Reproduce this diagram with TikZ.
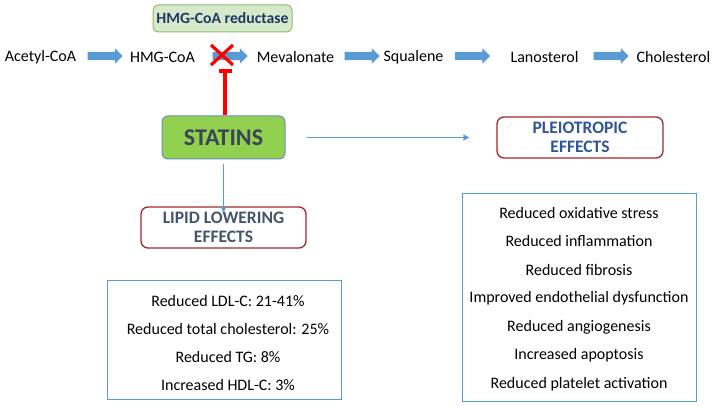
\documentclass[tikz,border=0pt]{standalone}
\usepackage{fontspec}
\setmainfont{Carlito}
\usetikzlibrary{shapes.arrows,arrows.meta}
\definecolor{arrblue}{HTML}{5B9BD5}
\definecolor{boxblue}{HTML}{5B9BD5}
\definecolor{darkred}{HTML}{A0282C}
\definecolor{statgreen}{HTML}{92D050}
\definecolor{statborder}{HTML}{6A8FBF}
\definecolor{statext}{HTML}{3A4656}
\definecolor{lightgreen}{HTML}{D6EACB}
\definecolor{greenborder}{HTML}{8DBB6E}
\definecolor{navy}{HTML}{1F3864}
\definecolor{slate}{HTML}{44546A}
\definecolor{pleioblue}{HTML}{2F5597}
\begin{document}
\begin{tikzpicture}[x=1pt,y=-1pt,
  lbl/.style={font=\fontsize{16}{19}\selectfont, inner sep=0pt, anchor=center},
  blockarrow/.style={single arrow, fill=arrblue, draw=none, minimum height=35pt, inner xsep=0pt, inner ysep=4pt, single arrow head extend=3.5pt, single arrow tip angle=90},
  effbox/.style={draw=darkred, line width=1.3pt, rounded corners=7pt, fill=white, align=center, font=\fontsize{17.5}{20}\selectfont\bfseries, inner sep=0pt},
  listbox/.style={draw=boxblue, line width=0.9pt, fill=white, inner sep=0pt},
  thinarrow/.style={draw=arrblue, line width=1.3pt, -{Triangle[length=6pt,width=6pt]}}
]
\useasboundingbox (0,0) rectangle (713,406);
% top row
\node[lbl] (acetyl) at (40.5,57) {Acetyl-CoA};
\node[blockarrow] (a1) at (103,56) {};
\node[lbl] (hmg) at (162.5,57) {HMG-CoA};
\node[blockarrow] (a2) at (228,56) {};
\node[lbl] (meva) at (295.5,57) {Mevalonate};
\node[blockarrow] (a3) at (360,56) {};
\node[lbl] (squa) at (413.5,57) {Squalene};
\node[blockarrow] (a4) at (470.5,56) {};
\node[lbl] (lano) at (544.5,57) {Lanosterol};
\node[blockarrow] (a5) at (609,56) {};
\node[lbl] (chol) at (673.5,57) {Cholesterol};
% enzyme box
\node[draw=greenborder, fill=lightgreen, line width=1pt, rounded corners=5pt, minimum width=139pt, minimum height=27pt, inner sep=0pt, text=navy, font=\fontsize{15.7}{18}\selectfont\bfseries] (enz) at (222.5,18.5) {HMG-CoA reductase};
% red X
\coordinate (xc) at (222,55);
\draw[red, line width=3.2pt] ([shift={(-11,-10)}]xc) -- ([shift={(11,10)}]xc);
\draw[red, line width=3.2pt] ([shift={(-11,10)}]xc) -- ([shift={(11,-10)}]xc);
% statins
\node[draw=statborder, fill=statgreen, line width=1pt, rounded corners=6pt, minimum width=123pt, minimum height=43pt, inner sep=0pt, text=statext, font=\fontsize{24}{27}\selectfont\bfseries] (stat) at (223.5,137.5) {STATINS};
% inhibition
\coordinate (tbar) at (225,71);
\draw[red, line width=4pt] (stat.north -| tbar) -- (tbar);
\draw[red, line width=3.5pt] ([xshift=-6.5pt]tbar) -- ([xshift=6.5pt]tbar);
% effect boxes
\node[effbox, text=slate, minimum width=165pt, minimum height=41pt] (lipid) at (223.5,227.5) {LIPID LOWERING\\[-1pt]EFFECTS};
\node[effbox, text=pleioblue, minimum width=166pt, minimum height=41pt] (pleio) at (580,137.5) {PLEIOTROPIC\\[-1pt]EFFECTS};
\draw[thinarrow] ([yshift=-5pt]stat.south) -- ([yshift=-6pt]lipid.north);
\draw[thinarrow] ([xshift=21pt]stat.east) -- ([xshift=-27pt]pleio.west);
% lists
\node[listbox, minimum width=234pt, minimum height=119pt] (lbox) at (224,339.5) {};
\node[lbl] (l1) at (228,301) {Reduced LDL-C: 21-41\%};
\node[lbl] (l2) at (228,329) {Reduced total cholesterol: 25\%};
\node[lbl] (l3) at (228,357) {Reduced TG: 8\%};
\node[lbl] (l4) at (228,385) {Increased HDL-C: 3\%};
\node[listbox, minimum width=234pt, minimum height=208pt] (rbox) at (579,297) {};
\node[lbl] (r1) at (579,213) {Reduced oxidative stress};
\node[lbl] (r2) at (579,241.5) {Reduced inflammation};
\node[lbl] (r3) at (579,270) {Reduced fibrosis};
\node[lbl] (r4) at (579,298.5) {Improved endothelial dysfunction};
\node[lbl] (r5) at (579,327) {Reduced angiogenesis};
\node[lbl] (r6) at (579,355.5) {Increased apoptosis};
\node[lbl] (r7) at (579,384) {Reduced platelet activation};
\end{tikzpicture}
\end{document}
